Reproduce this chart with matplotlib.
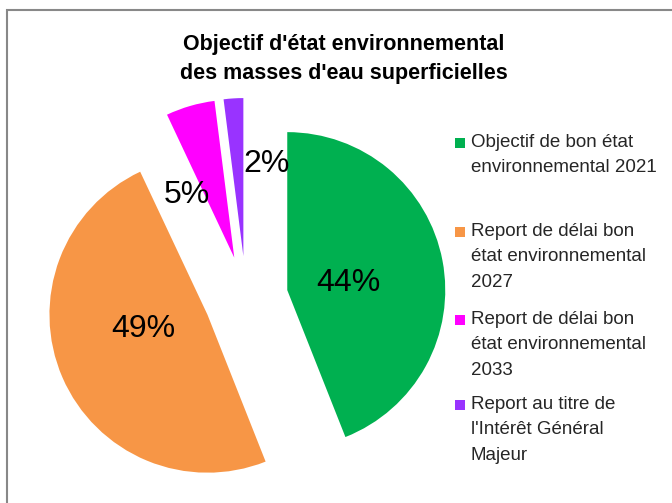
import matplotlib
import matplotlib.pyplot as plt
from matplotlib.patches import Rectangle

matplotlib.rcParams.update({'font.family': ['Liberation Sans', 'DejaVu Sans']})

## Data
categories = ["Objectif de bon état\nenvironnemental 2021",
              "Report de délai bon\nétat environnemental\n2027",
              "Report de délai bon\nétat environnemental\n2033",
              "Report au titre de\nl'Intérêt Général\nMajeur"]
shares = [44, 49, 5, 2]
colors = ['#00B050', '#F79646', '#FF00FF', '#9933FF']
title = "Objectif d'état environnemental\ndes masses d'eau superficielles"

## Figure in pixel coordinates (y up)
W, H = 672, 503
fig = plt.figure(figsize=(W / 100, H / 100), dpi=100)
ax = fig.add_axes([0, 0, 1, 1])

radius = 158
center = (246, H - 298)
# explode is in data units here (pixels)
wedges, texts, pcts = ax.pie(shares, colors=colors, startangle=90, counterclock=False,
                             explode=[42] * len(shares), radius=radius, center=center,
                             autopct='%1.0f%%', pctdistance=0.42,
                             textprops={'fontsize': 23, 'color': 'black'},
                             wedgeprops={'linewidth': 0})
ax.set_xlim(0, W)
ax.set_ylim(0, H)
ax.set_aspect('equal')
ax.axis('off')

# label spots (small slices sit beside their wedge, Excel "best fit")
pcts[0].set_position((348, H - 283))
pcts[1].set_position((143, H - 329))
pcts[2].set_position((187, H - 195))
pcts[3].set_position((267, H - 164))

## Title
ax.text(344, H - 59, title, ha='center', va='center', fontsize=15.5, fontweight='bold',
        color='black', linespacing=1.45)

## Legend drawn by hand
leg_tops = [143, 232, 320, 405]
for lab, col, yt in zip(categories, colors, leg_tops):
    ax.add_patch(Rectangle((455, H - yt - 5), 10, 10, color=col, lw=0))
    ax.text(471, H - yt + 9, lab, ha='left', va='top', fontsize=13.5,
            color='#262626', linespacing=1.65)

## Chart frame
ax.add_patch(Rectangle((7, -10), W, H, fill=False, edgecolor='#888888',
                       lw=1.5, clip_on=False))

fig.savefig('out.png', dpi=100, facecolor='white')
